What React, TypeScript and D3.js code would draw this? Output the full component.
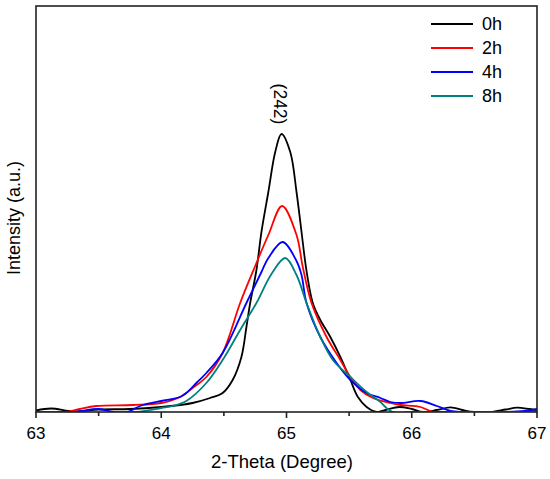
import React from "react";
import * as d3 from "d3";

// ---- data ----
const theta0h = [63.0, 63.12, 63.3, 63.5, 63.75, 64.0, 64.15, 64.25, 64.39, 64.49, 64.57, 64.64, 64.68, 64.71, 64.76, 64.8, 64.855, 64.91, 64.96, 65.03, 65.08, 65.12, 65.16, 65.21, 65.27, 65.35, 65.43, 65.51, 65.57, 65.64, 65.72, 65.79, 65.9, 66.0, 66.09, 66.2, 66.31, 66.42, 66.5, 66.63, 66.75, 66.84, 66.94, 67.0];
const int0h = [1.5, 3.5, 0.5, 2.5, 3, 5, 7, 9, 14, 19, 32, 55, 85, 109, 142, 180, 220, 260, 278, 260, 220, 180, 141, 109, 92, 75, 55, 32, 15, 5, 0, 2, 5, 3, 0, 2, 4.7, 1.5, 0, 0, 2.5, 4.3, 3, 2];

const theta2h = [63.0, 63.24, 63.35, 63.48, 63.77, 64.0, 64.15, 64.25, 64.36, 64.49, 64.63, 64.75, 64.855, 64.965, 65.08, 65.13, 65.2, 65.32, 65.43, 65.51, 65.59, 65.69, 65.83, 65.91, 66.07, 66.17, 66.3, 66.6, 67.0];
const int2h = [0, 0, 3, 6, 7, 9, 15, 24, 35, 59, 109, 146, 177, 206, 177, 145, 109, 75, 52, 35, 22, 14, 9, 7, 5, 0, 0, 0, 0];

const theta4h = [63.0, 63.3, 63.5, 63.62, 63.73, 63.83, 64.0, 64.09, 64.15, 64.2, 64.28, 64.36, 64.49, 64.68, 64.8, 64.855, 64.97, 65.08, 65.12, 65.16, 65.27, 65.4, 65.51, 65.64, 65.75, 65.83, 65.91, 66.07, 66.2, 66.31, 66.4, 66.76, 66.9, 67.0];
const int4h = [0, 0, 3, 0, 0, 6, 11, 13, 15, 19, 29, 39, 59, 109, 140, 154, 170, 151, 137, 109, 75, 49, 32, 19, 14, 10, 9, 11, 6, 1, 0, 0, 1, 3];

const theta8h = [63.0, 63.8, 64.0, 64.09, 64.2, 64.36, 64.49, 64.63, 64.76, 64.88, 64.99, 65.08, 65.16, 65.27, 65.37, 65.51, 65.64, 65.75, 65.79, 65.85, 66.0, 67.0];
const int8h = [0, 0, 4, 6, 11, 29, 52, 82, 109, 138, 154, 137, 109, 75, 52, 35, 20, 10, 5, 0, 0, 0];

const seriesNames = ["0h", "2h", "4h", "8h"];
const seriesColors = ["#000000", "#ff0000", "#0000ff", "#008080"];
const seriesX = [theta0h, theta2h, theta4h, theta8h];
const seriesY = [int0h, int2h, int4h, int8h];

const majorTicks = [63, 64, 65, 66, 67];
const minorTicks = [63.5, 64.5, 65.5, 66.5];

const W = 550;
const H = 479;
const left = 36;
const right = 537;
const top = 6;
const bottom = 412;

export default function App() {
  const x = d3.scaleLinear().domain([63, 67]).range([left, right]);
  const y = d3.scaleLinear().domain([0, 406]).range([bottom, top]);
  const line = d3
    .line<[number, number]>()
    .x((d) => x(d[0]))
    .y((d) => Math.min(y(d[1]), bottom))
    .curve(d3.curveCatmullRom.alpha(0.5));

  const font = "Arial, 'Liberation Sans', sans-serif";

  return (
    <svg
      width={W}
      height={H}
      style={{ position: "absolute", left: 0, top: 0, background: "#fff" }}
      fontFamily={font}
    >
      <defs>
        <clipPath id="plotclip">
          <rect x={left} y={top} width={right - left} height={bottom - top} />
        </clipPath>
      </defs>
      <g clipPath="url(#plotclip)">
        {seriesX.map((xs, i) => (
          <path
            key={seriesNames[i]}
            d={line(xs.map((v, j) => [v, seriesY[i][j]]) as [number, number][]) || ""}
            fill="none"
            stroke={seriesColors[i]}
            strokeWidth={1.8}
          />
        ))}
      </g>
      <rect
        x={left}
        y={top}
        width={right - left}
        height={bottom - top}
        fill="none"
        stroke="#222"
        strokeWidth={1.6}
      />
      {majorTicks.map((t) => (
        <g key={"M" + t}>
          <line x1={x(t)} x2={x(t)} y1={bottom} y2={bottom + 6} stroke="#222" strokeWidth={1.6} />
          <text x={x(t)} y={439} textAnchor="middle" fontSize={17} fill="#000">
            {t}
          </text>
        </g>
      ))}
      {minorTicks.map((t) => (
        <line key={"m" + t} x1={x(t)} x2={x(t)} y1={bottom} y2={bottom + 4} stroke="#222" strokeWidth={1.6} />
      ))}
      <text x={282} y={468} textAnchor="middle" fontSize={18.5} fill="#000">
        2-Theta (Degree)
      </text>
      <text
        transform={`translate(20,218) rotate(-90)`}
        textAnchor="middle"
        fontSize={18}
        fill="#000"
      >
        Intensity (a.u.)
      </text>
      <text
        transform={`translate(274,104) rotate(90)`}
        textAnchor="middle"
        fontSize={17.5}
        fill="#000"
      >
        (242)
      </text>
      {seriesNames.map((n, i) => (
        <g key={"lg" + n}>
          <line x1={431} x2={473} y1={24 + i * 24} y2={24 + i * 24} stroke={seriesColors[i]} strokeWidth={1.8} />
          <text x={482} y={30 + i * 24} fontSize={18} fill="#000">
            {n}
          </text>
        </g>
      ))}
    </svg>
  );
}
